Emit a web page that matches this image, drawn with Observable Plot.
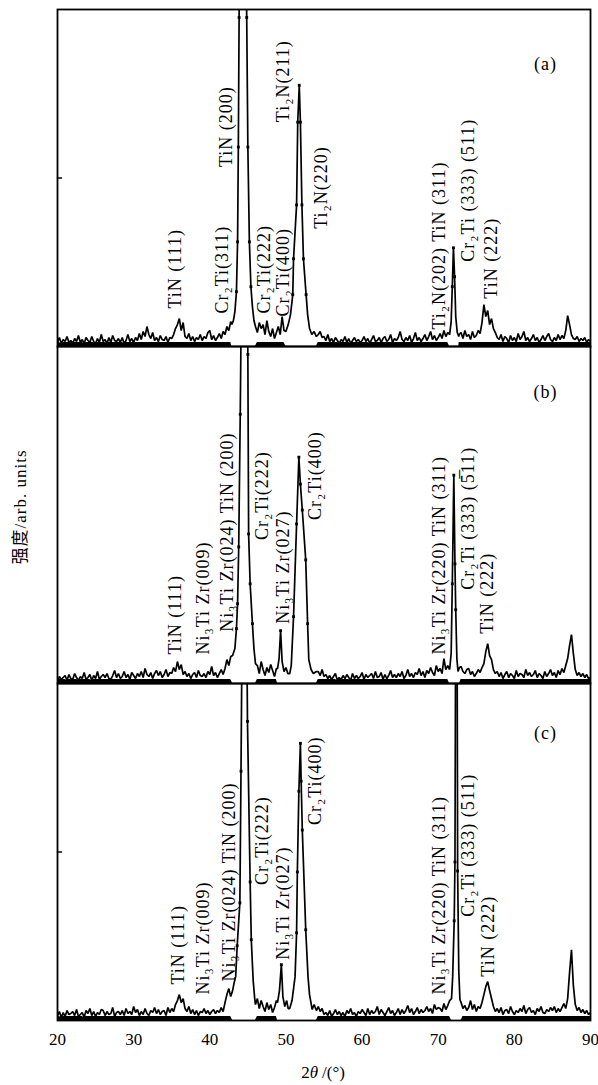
<!DOCTYPE html>
<html>
<head>
<meta charset="utf-8">
<script src="https://cdn.jsdelivr.net/npm/d3@7"></script>
<script src="https://cdn.jsdelivr.net/npm/@observablehq/plot@0.6"></script>
<style>
  html, body { margin: 0; padding: 0; background: #fff; }
  svg { display: block; }
</style>
</head>
<body>
<div id="chart"></div>
<script>
// ---------- DATA ----------
const N = null;
const xDomain = [20, 90];
const xTicks = [20, 30, 40, 50, 60, 70, 80, 90];
const xStart = 20, xStep = 0.25;       // background sample grid (2θ)
const panels = ["a", "b", "c"];
const yMax = 338;                        // intensity range of one panel (arb.)
const noiseFloor = 4;                    // dense noise band drawn solid

// background intensities, one row per degree (20.00, 20.25, 20.50, 20.75); null = see peak list
const bgA = [
  4,9,3,7,  5,10,4,6,  3,8,5,11,  4,7,3,9,  6,4,10,5,      // 20-24
  3,8,4,12, 5,7,3,9,   4,11,6,5,  8,4,9,3,  6,12,5,8,      // 25-29
  4,9,6,13, 7,15,10,20, 12,8,14,6, 9,5,11,7, 6,10,4,9,     // 30-34
  8,12,18,22, 28,16,24,10, 8,13,6,10, 5,9,7,12, 6,10,8,14, // 35-39
  16,7,11,6, 9,13,8,15, 12,20,16,25, N,N,N,N, N,N,N,N,     // 40-44
  N,N,N,N, N,14,24,18, 22,12,26,15, 10,18,8,14, 20,12,30,16, // 45-49
  N,N,N,N, N,N,N,N, N,N,N,N, N,N,N,N, N,12,15,9,           // 50-54
  10,6,12,5, 8,4,9,6, 3,7,5,10, 4,8,3,6, 9,5,7,4,          // 55-59
  6,10,5,8, 3,7,11,5, 6,9,4,8, 10,5,7,12, 4,8,6,9,         // 60-64
  15,7,5,9, 6,11,4,8, 14,6,9,5, 8,12,6,10, 15,7,11,6,      // 65-69
  9,13,8,16, 10,14,N,N, N,N,N,12, 14,8,16,10, 12,7,15,9,   // 70-74
  11,16,13,24, 42,30,36,22, 28,18,14,9, 7,12,5,10, 8,4,11,6, // 75-79
  9,5,13,7, 10,15,6,9, 5,8,12,6, 9,4,7,11, 6,10,13,7,      // 80-84
  5,9,6,12, 7,11,8,16, 31,22,12,8, 7,10,5,8, 6,9,4,7,      // 85-89
  5                                                         // 90
];
const bgB = [
  3,7,4,6, 8,3,9,5, 4,10,6,3, 7,5,11,4, 6,9,3,8,           // 20-24
  5,12,4,7, 9,6,10,5, 4,8,13,6, 10,5,7,12, 6,9,4,11,       // 25-29
  8,5,10,7, 12,6,15,9, 7,11,5,10, 13,8,12,6, 9,14,7,11,    // 30-34
  10,16,12,22, 14,19,9,12, 7,10,5,9, 11,6,13,8, 7,10,6,12, // 35-39
  9,17,8,11, 6,10,14,9, 15,24,18,27, N,N,N,N, N,N,N,N,     // 40-44
  N,N,N,N, N,18,10,22, 14,8,16,11, 19,13,7,15, N,N,N,N,    // 45-49
  N,N,N,N, N,N,N,N, N,N,N,N, N,N,N,N, N,12,8,14,           // 50-54
  7,9,5,8, 4,7,10,3, 6,4,8,5, 9,6,3,10, 5,8,5,7,           // 55-59
  11,4,9,6, 8,10,5,12, 6,7,11,4, 9,5,8,13, 6,9,6,10,       // 60-64
  7,12,5,8, 14,7,10,6, 11,9,15,8, 12,6,13,10, 16,11,8,18,  // 65-69
  12,15,10,25, 14,18,N,N, N,N,N,N, 17,12,10,14, 15,9,12,7, // 70-74
  10,14,11,16, 20,32,40,28, 24,14,10,12, 7,11,5,9, 12,6,10,8, // 75-79
  5,13,7,10, 9,6,14,8, 11,7,9,13, 6,10,8,5, 12,7,10,14,    // 80-84
  8,11,6,13, 9,15,11,18, 25,38,49,30, 14,8,11,7, 10,6,9,5, // 85-89
  6                                                         // 90
];
const bgC = [
  5,9,3,8, 4,10,6,7, 9,5,11,4, 6,8,3,10, 7,12,5,9,         // 20-24
  4,8,6,11, 10,5,9,6, 7,13,4,8, 9,6,10,5, 12,7,9,6,        // 25-29
  14,8,11,5, 9,6,12,7, 5,10,8,13, 7,11,6,9, 10,5,13,8,     // 30-34
  12,9,16,20, 26,18,22,12, 9,14,7,11, 6,10,5,9, 8,12,7,10, // 35-39
  6,9,11,7, 10,8,13,9, 18,26,32,24, N,N,N,N, N,N,N,N,      // 40-44
  N,N,N,N, N,22,12,20, 14,9,18,11, 16,8,13,20, N,N,N,N,    // 45-49
  N,N,N,N, N,N,N,N, N,N,N,N, N,N,N,N, N,14,9,12,           // 50-54
  6,8,5,10, 4,7,11,6, 9,5,8,4, 10,7,12,6, 8,4,9,7,         // 55-59
  11,8,5,12, 6,10,7,9, 14,6,11,8, 5,9,13,7, 10,5,8,12,     // 60-64
  6,11,7,10, 15,8,12,6, 9,13,7,11, 8,10,14,9, 12,7,16,11,  // 65-69
  13,12,9,17, 11,15,20,N, N,N,N,N, N,12,15,10, 13,20,11,16, // 70-74
  9,14,12,18, 26,34,39,30, 22,14,9,12, 8,13,6,10, 11,7,14,9, // 75-79
  6,10,8,12, 9,15,7,11, 13,8,10,6, 12,9,14,8, 7,11,9,13,   // 80-84
  10,14,8,12, 9,13,17,12, 22,48,71,35, 16,10,13,8, 11,7,10,6, // 85-89
  8                                                         // 90
];

// peak profiles [2θ, intensity]
const peaksA = [
  [42.9,22],[43.1,26],[43.3,35],[43.5,55],[43.65,105],[43.75,200],[43.85,330],[44.35,700],[44.85,330],[45.0,200],[45.2,105],[45.4,60],[45.6,40],[45.8,26],[46.0,20],
  [50.0,15],[50.3,22],[50.6,32],[50.9,52],[51.0,88],[51.4,142],[51.55,225],[51.75,262],[51.9,225],[52.1,142],[52.3,88],[52.65,52],[52.85,32],[53.1,18],[53.4,12],[53.7,15],[54.0,10],
  [71.5,12],[71.7,25],[71.85,60],[72.0,99],[72.15,70],[72.3,30],[72.5,14],[72.7,10]
];
const peaksB = [
  [43.0,28],[43.3,35],[43.5,55],[43.65,80],[43.8,137],[44.0,270],[44.55,700],[45.0,330],[45.1,150],[45.3,100],[45.6,60],[45.8,35],[46.0,20],
  [48.9,15],[49.1,25],[49.3,53],[49.5,22],[49.75,12],[50.0,16],[50.25,10],
  [50.5,10],[50.7,18],[51.0,67],[51.4,160],[51.7,227],[51.9,200],[52.15,174],[52.6,124],[52.85,60],[53.0,24],[53.3,14],[53.6,10],[54.0,12],
  [71.5,14],[71.7,30],[71.85,100],[72.05,209],[72.2,120],[72.3,74],[72.45,25],[72.6,12],[72.8,16]
];
const peaksC = [
  [43.0,30],[43.2,38],[43.4,44],[43.6,75],[43.95,118],[44.1,250],[44.55,700],[44.95,300],[45.3,139],[45.45,81],[45.7,40],[45.9,22],[46.0,16],
  [48.9,18],[49.15,30],[49.4,56],[49.6,24],[49.85,14],[50.1,20],[50.3,12],
  [50.5,12],[50.8,20],[51.2,44],[51.4,88],[51.5,149],[51.7,230],[51.9,278],[52.0,240],[52.15,191],[52.6,91],[52.9,44],[53.1,26],[53.45,11],[53.7,16],[54.0,10],
  [71.75,22],[71.9,44],[72.1,100],[72.2,159],[72.4,700],[72.55,150],[72.7,50],[72.85,21],[73.0,18]
];

// peak annotations [text, 2θ, intensity at text start]
const labelsA = [
  ["TiN (111)", 35.5, 38], ["Cr₂Ti(311)", 41.7, 33], ["TiN (200)", 42.1, 180],
  ["Cr₂Ti(222)", 47.1, 33], ["Cr₂Ti(400)", 49.7, 30], ["Ti₂N(211)", 49.6, 225],
  ["Ti₂N(220)", 54.6, 118], ["Ti₂N(202) TiN (311)", 70.1, 17],
  ["Cr₂Ti (333) (511)", 73.9, 85], ["TiN (222)", 76.9, 48]
];
const labelsB = [
  ["TiN (111)", 35.5, 29], ["Ni₃Ti Zr(009)", 39.2, 29], ["Ni₃Ti Zr(024) TiN (200)", 42.3, 52],
  ["Cr₂Ti(222)", 46.9, 144], ["Ni₃Ti Zr(027)", 49.7, 60], ["Cr₂Ti(400)", 53.9, 164],
  ["Ni₃Ti Zr(220) TiN (311)", 70.1, 29], ["Cr₂Ti (333) (5\u030511)", 73.9, 94], ["TiN (222)", 76.5, 50]
];
const labelsC = [
  ["TiN (111)", 35.9, 36], ["Ni₃Ti Zr(009)", 39.2, 26], ["Ni₃Ti Zr(024) TiN (200)", 42.5, 39],
  ["Cr₂Ti(222)", 46.9, 136], ["Ni₃Ti Zr(027)", 49.6, 61], ["Cr₂Ti(400)", 53.9, 196],
  ["Ni₃Ti Zr(220) TiN (311)", 70.1, 26], ["Cr₂Ti (333) (511)", 74.0, 104], ["TiN (222)", 76.6, 44]
];
// panel tags [panel, text, 2θ, intensity]
const panelTags = [["a", "(a)", 84.1, 283], ["b", "(b)", 84.1, 292], ["c", "(c)", 84.1, 288]];
// left inner ticks
const midTicks = [["a", 169], ["c", 169]];

const xLabel = "2θ/(°)";
const yLabel = "强度/arb. units";

// ---------- BUILD ----------
function buildTrace(panel, bg, peaks) {
  const pts = [];
  bg.forEach((v, i) => { if (v !== null) pts.push({panel, x: xStart + i * xStep, y: v, peak: false}); });
  peaks.forEach(([x, y]) => pts.push({panel, x, y, peak: true}));
  pts.sort((a, b) => a.x - b.x);
  return pts;
}
const trace = [
  ...buildTrace("a", bgA, peaksA),
  ...buildTrace("b", bgB, peaksB),
  ...buildTrace("c", bgC, peaksC)
];
const band = trace.map(d => ({...d, yb: d.peak ? NaN : Math.min(d.y, noiseFloor)}));
const markers = trace.filter(d => d.peak && d.y > 50 && d.y < yMax);
const labels = [
  ...labelsA.map(([t, x, y]) => ({panel: "a", t, x, y})),
  ...labelsB.map(([t, x, y]) => ({panel: "b", t, x, y})),
  ...labelsC.map(([t, x, y]) => ({panel: "c", t, x, y}))
];
const tags = panelTags.map(([panel, t, x, y]) => ({panel, t, x, y}));
const ticks = midTicks.map(([panel, y]) => ({panel, y}));

const serif = "'Liberation Serif', 'Times New Roman', 'DejaVu Serif', 'Noto Sans CJK SC', serif";
const tickShape = { draw(context, l) { context.moveTo(0, 0); context.lineTo(0, -l); } };

const chart = Plot.plot({
  width: 598,
  height: 1085,
  marginLeft: 57,
  marginRight: 8,
  marginTop: 8,
  marginBottom: 64,
  style: { fontFamily: serif, fontSize: "17px", color: "black", background: "white" },
  x: { domain: xDomain, ticks: xTicks, tickSize: 0, tickPadding: 12, label: null },
  y: { domain: [0, yMax], axis: null },
  fy: { domain: panels, padding: 0, axis: null, label: null },
  marks: [
    Plot.areaY(band, { x: "x", y: "yb", fy: "panel", fill: "black", curve: "linear" }),
    Plot.line(trace, { x: "x", y: "y", fy: "panel", stroke: "black", strokeWidth: 1.7, strokeLinejoin: "miter", clip: "frame" }),
    Plot.dot(markers, { x: "x", y: "y", fy: "panel", symbol: "square", r: 1.6, fill: "black" }),
    Plot.frame({ stroke: "black", strokeWidth: 1.8 }),
    Plot.vector(ticks, { x: xDomain[0], y: "y", fy: "panel", rotate: 90, length: 4, anchor: "start", shape: tickShape, stroke: "black", strokeWidth: 1.5 }),
    Plot.text(labels, { x: "x", y: "y", fy: "panel", text: "t", rotate: -90, textAnchor: "start", fontSize: 18, fill: "black" }),
    Plot.text(tags, { x: "x", y: "y", fy: "panel", text: "t", fontSize: 18, fill: "black" })
  ]
});

document.getElementById("chart").appendChild(chart);

const svg = d3.select(chart);
svg.selectAll('g[aria-label="text"] text').attr("letter-spacing", "1px").style("letter-spacing", "1px");

// y-axis title
svg.append("text")
  .attr("transform", "translate(22,507) rotate(-90)")
  .attr("text-anchor", "middle")
  .attr("dominant-baseline", "middle")
  .style("font-family", serif)
  .style("font-size", "17px")
  .style("letter-spacing", "1px")
  .attr("fill", "black")
  .text(yLabel);

// x-axis title with italic θ
const xt = svg.append("text")
  .attr("x", 323).attr("y", 1078)
  .attr("text-anchor", "middle")
  .style("font-family", serif)
  .style("font-size", "17px")
  .attr("fill", "black");
xt.append("tspan").text(xLabel.slice(0, 1));
xt.append("tspan").style("font-style", "italic").text(xLabel.slice(1, 2));
xt.append("tspan").attr("dx", 4).text(xLabel.slice(2));
</script>
</body>
</html>
